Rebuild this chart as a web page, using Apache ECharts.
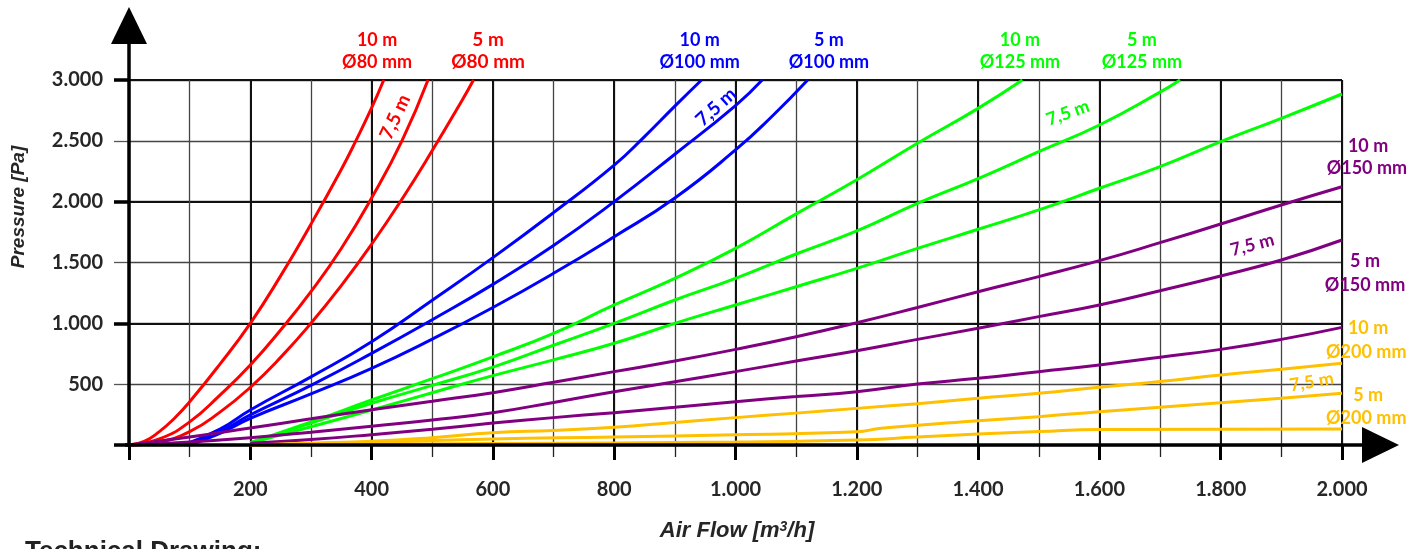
<!DOCTYPE html>
<html><head><meta charset="utf-8">
<script src="https://cdn.jsdelivr.net/npm/echarts@6/dist/echarts.min.js"></script>
<style>html,body{margin:0;padding:0;background:#fff}#c{width:1424px;height:549px}</style>
</head><body><div id="c"></div>
<script>
// ---- axis ticks ----
const xTicksMajor = [200, 400, 600, 800, 1000, 1200, 1400, 1600, 1800, 2000];
const yTicks = [500, 1000, 1500, 2000, 2500, 3000];

// ---- series values: [air flow m3/h, pressure Pa] ----
const red10 = [[0,0],[25,30],[50,110],[75,220],[100,355],[150,665],[200,1000],[250,1390],[300,1815],[350,2265],[375,2510],[400,2770],[420,3000]];
const red75 = [[0,0],[50,50],[100,190],[150,410],[200,657],[250,945],[300,1260],[350,1615],[400,2030],[450,2500],[493,3000]];
const red5  = [[0,0],[50,25],[100,110],[150,270],[200,474],[250,720],[300,1000],[350,1310],[400,1650],[450,2020],[500,2420],[550,2840],[568,3000]];

const blue10 = [[90,0],[150,130],[200,288],[300,560],[400,849],[500,1190],[600,1540],[700,1910],[800,2300],[850,2535],[900,2785],[944,3000]];
const blue75 = [[95,0],[150,110],[200,247],[300,490],[400,753],[500,1030],[600,1320],[700,1640],[800,2000],[900,2390],[1000,2790],[1044,3000]];
const blue5  = [[100,0],[150,95],[200,219],[300,420],[400,630],[500,870],[600,1130],[700,1411],[800,1712],[900,2030],[1000,2425],[1060,2700],[1119,3000]];

const green10 = [[200,20],[300,190],[400,370],[500,545],[600,725],[700,918],[800,1151],[900,1370],[1000,1616],[1100,1900],[1200,2180],[1300,2480],[1400,2767],[1473,3000]];
const green75 = [[200,20],[300,180],[400,343],[500,490],[600,640],[700,820],[800,1000],[900,1192],[1000,1370],[1100,1570],[1200,1760],[1300,1986],[1400,2190],[1500,2411],[1600,2630],[1700,2900],[1733,3000]];
const green5  = [[200,15],[300,150],[400,288],[500,430],[600,570],[700,700],[800,836],[900,1000],[1000,1151],[1100,1301],[1200,1452],[1300,1616],[1400,1773],[1500,1932],[1600,2110],[1700,2288],[1800,2493],[1900,2685],[2000,2885]];

const purple10 = [[0,0],[100,65],[200,140],[300,215],[400,290],[500,360],[600,430],[700,515],[800,603],[900,690],[1000,786],[1100,890],[1200,1005],[1300,1130],[1400,1260],[1500,1384],[1600,1515],[1700,1663],[1800,1816],[1900,1973],[2000,2123]];
const purple75 = [[0,0],[100,25],[200,60],[300,105],[400,155],[500,205],[600,265],[700,350],[800,438],[900,520],[1000,603],[1100,690],[1200,775],[1300,868],[1400,959],[1500,1055],[1600,1151],[1700,1268],[1800,1389],[1900,1521],[2000,1685]];
const purple5  = [[200,15],[300,45],[400,85],[500,130],[600,180],[700,225],[800,266],[900,310],[1000,356],[1100,398],[1200,438],[1300,501],[1400,548],[1500,603],[1600,658],[1700,721],[1800,786],[1900,868],[2000,967]];

const yellow10 = [[200,0],[300,15],[400,30],[500,60],[600,100],[700,120],[800,145],[900,185],[1000,225],[1100,262],[1200,301],[1300,340],[1400,384],[1500,425],[1600,474],[1700,521],[1800,575],[1900,622],[2000,671]];
const yellow75 = [[200,0],[400,22],[600,50],[800,65],[1000,85],[1200,108],[1240,137],[1400,200],[1500,233],[1600,274],[1700,310],[1800,348],[1900,384],[2000,425]];
const yellow5  = [[200,0],[600,12],[1000,25],[1200,41],[1300,65],[1400,90],[1500,110],[1600,128],[2000,131]];

// ---- texts ----
const seriesNames = ['10 m Ø80 mm','7,5 m Ø80 mm','5 m Ø80 mm','10 m Ø100 mm','7,5 m Ø100 mm','5 m Ø100 mm','10 m Ø125 mm','7,5 m Ø125 mm','5 m Ø125 mm','10 m Ø150 mm','7,5 m Ø150 mm','5 m Ø150 mm','10 m Ø200 mm','7,5 m Ø200 mm','5 m Ø200 mm'];
const xAxisTitle = 'Air Flow [m3/h]';
const yAxisTitle = 'Pressure [Pa]';
const footerText = 'Technical Drawing:';

const RED = '#ff0000', BLUE = '#0000ff', GREEN = '#00ff00', PURPLE = '#800080', YELLOW = '#ffc000';
const seriesData = [red10, red75, red5, blue10, blue75, blue5, green10, green75, green5, purple10, purple75, purple5, yellow10, yellow75, yellow5];
const seriesColors = [RED,RED,RED,BLUE,BLUE,BLUE,GREEN,GREEN,GREEN,PURPLE,PURPLE,PURPLE,YELLOW,YELLOW,YELLOW];

// annotation positions (in data coordinates) for curve captions
const captions = [
  {t:'10 m', p:[409,3329], c:RED}, {t:'Ø80 mm', p:[409,3148], c:RED},
  {t:'5 m', p:[592,3329], c:RED, big:true}, {t:'Ø80 mm', p:[592,3148], c:RED, big:true},
  {t:'10 m', p:[941,3329], c:BLUE}, {t:'Ø100 mm', p:[941,3148], c:BLUE},
  {t:'5 m', p:[1154,3329], c:BLUE}, {t:'Ø100 mm', p:[1154,3148], c:BLUE},
  {t:'10 m', p:[1469,3329], c:GREEN}, {t:'Ø125 mm', p:[1469,3148], c:GREEN},
  {t:'5 m', p:[1670,3329], c:GREEN}, {t:'Ø125 mm', p:[1670,3148], c:GREEN},
  {t:'10 m', p:[2043,2457], c:PURPLE}, {t:'Ø150 mm', p:[2041,2277], c:PURPLE},
  {t:'5 m', p:[2038,1512], c:PURPLE}, {t:'Ø150 mm', p:[2038,1315], c:PURPLE},
  {t:'10 m', p:[2043,962], c:YELLOW}, {t:'Ø200 mm', p:[2040,764], c:YELLOW},
  {t:'5 m', p:[2043,411], c:YELLOW}, {t:'Ø200 mm', p:[2040,222], c:YELLOW},
  {t:'7,5 m', p:[439,2696], c:RED, r:65, big:true},
  {t:'7,5 m', p:[968,2778], c:BLUE, r:42, big:true},
  {t:'7,5 m', p:[1548,2729], c:GREEN, r:20},
  {t:'7,5 m', p:[1852,1644], c:PURPLE, r:15},
  {t:'7,5 m', p:[1950,518], c:YELLOW, r:10}
];

function fmt(v){
  if (v === 0) return '';
  if (v >= 1000) return Math.floor(v/1000) + '.' + String(v % 1000).padStart(3,'0');
  return String(v);
}

const labelFont = {fontFamily:'Lato', fontWeight:'bold', fontSize:20, color:'#262626'};

const chart = echarts.init(document.getElementById('c'), null, {renderer:'canvas'});
const option = {
  animation: false,
  backgroundColor: '#fff',
  grid: {left:129, top:80, right:82, bottom:104, containLabel:false, outerBoundsMode:'none'},
  xAxis: [
    {type:'value', min:0, max:2000, interval:100, position:'bottom',
     axisLine:{show:false}, axisLabel:{show:false},
     axisTick:{show:true, length:12, lineStyle:{color:'#222', width:1.3}},
     splitLine:{show:true, lineStyle:{color:'#444', width:1.3}}},
    {type:'value', min:0, max:2000, interval:200, position:'bottom',
     axisLine:{show:false},
     axisLabel:{show:true, margin:35, formatter:fmt, ...labelFont},
     axisTick:{show:true, length:15, lineStyle:{color:'#000', width:3}},
     splitLine:{show:true, lineStyle:{color:'#111', width:2}}}
  ],
  yAxis: [
    {type:'value', min:0, max:3000, interval:500, position:'left',
     axisLine:{show:false},
     axisLabel:{show:true, margin:26, formatter:fmt, ...labelFont},
     axisTick:{show:true, length:15, lineStyle:{color:'#555', width:1.3}},
     splitLine:{show:true, lineStyle:{color:'#444', width:1.3}}},
    {type:'value', min:0, max:3000, interval:1000, position:'left',
     axisLine:{show:false}, axisLabel:{show:false},
     axisTick:{show:true, length:15, lineStyle:{color:'#000', width:3.5}},
     splitLine:{show:true, lineStyle:{color:'#111', width:2}}}
  ],
  series: seriesData.map((d, i) => ({
    name: seriesNames[i], type:'line', data:d, xAxisIndex:0, yAxisIndex:0,
    showSymbol:false, symbol:'none', smooth:0.5, silent:true,
    clip:false, lineStyle:{color:seriesColors[i], width:3}, z:3
  }))
};
chart.setOption(option);

const px = p => chart.convertToPixel({gridIndex:0}, p);
const o = px([0,0]);
const graphics = [];
// y axis line + arrow
graphics.push({type:'line', z:50, shape:{x1:o[0], y1:o[1]+2, x2:o[0], y2:44}, style:{stroke:'#000', lineWidth:3.5}});
graphics.push({type:'polygon', z:50, shape:{points:[[o[0]-18,44],[o[0]+18,44],[o[0],7]]}, style:{fill:'#000'}});
// x axis line + arrow
graphics.push({type:'line', z:50, shape:{x1:o[0]-4, y1:o[1], x2:1364, y2:o[1]}, style:{stroke:'#000', lineWidth:3.5}});
graphics.push({type:'polygon', z:50, shape:{points:[[1362,o[1]-18],[1362,o[1]+18],[1399,o[1]]]}, style:{fill:'#000'}});
// captions
captions.forEach(c => {
  const p = px(c.p);
  graphics.push({type:'text', z:60, x:p[0], y:p[1], rotation:(c.r||0)*Math.PI/180,
    style:{text:c.t, fill:c.c, font:'bold ' + (c.big?19:18) + 'px Lato', align:'center', verticalAlign:'middle'}});
});
// axis titles
graphics.push({type:'text', z:60, x:19, y:207, rotation:Math.PI/2,
  style:{text:yAxisTitle, fill:'#262626', font:'italic bold 19px "Liberation Sans"', align:'center', verticalAlign:'middle'}});
graphics.push({type:'text', z:60, x:737, y:531,
  style:{text:'{a|Air Flow [m}{s|3}{a|/h]}', align:'center', verticalAlign:'middle',
    rich:{a:{font:'italic bold 22px "Liberation Sans"', fill:'#262626', verticalAlign:'bottom'},
          s:{font:'italic bold 14px "Liberation Sans"', fill:'#262626', verticalAlign:'top'}}}});
graphics.push({type:'text', z:60, x:25, y:539,
  style:{text:footerText, fill:'#222', font:'bold 26px "Liberation Sans"', align:'left', verticalAlign:'top'}});
chart.setOption({graphic:graphics});
</script></body></html>
